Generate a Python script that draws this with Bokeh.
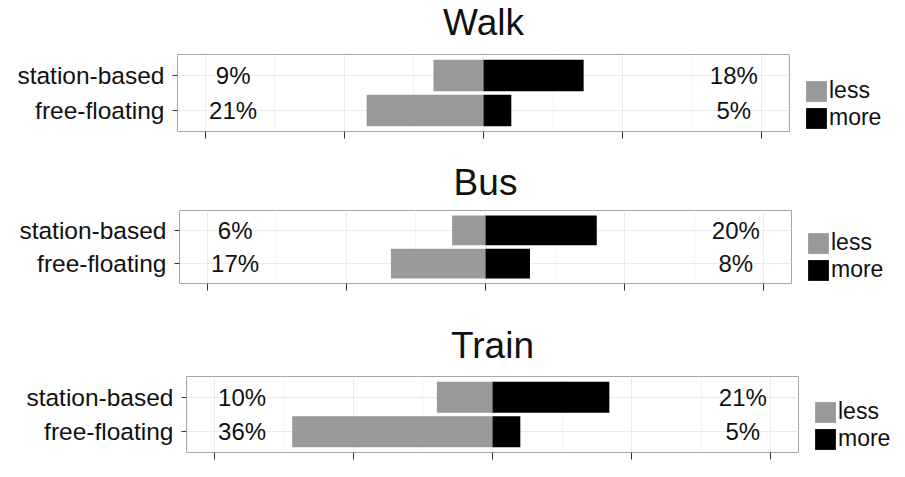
from bokeh.plotting import figure
from bokeh.models import (Range1d, FixedTicker, Legend, LegendItem, ColumnDataSource,
                          CustomLabelingPolicy, Spacer)
from bokeh.layouts import column, row
from bokeh.embed import file_html
from bokeh.resources import INLINE
from bokeh.core.properties import value

# ---- data ----
modes = ["Walk", "Bus", "Train"]
categories = ["station-based", "free-floating"]
walk_less = [9, 21]
walk_more = [18, 5]
bus_less = [6, 17]
bus_more = [20, 8]
train_less = [10, 36]
train_more = [21, 5]
legend_labels = ["less", "more"]
x_ticks = [-50, -25, 0, 25, 50]
x_minor_ticks = [-37.5, -12.5, 12.5, 37.5]
label_pos = 45

FONT = "Liberation Sans"
GRAY = "#999999"
BLACK = "#000000"
TEXT = "#111111"
FRAME_W = 612
B_LEFT = 177
B_RIGHT = 98


def make_title(title, height, center_from_top):
    t = figure(frame_width=FRAME_W, height=height, x_range=Range1d(-55, 55),
               y_range=Range1d(0, height), x_axis_type=None, y_axis_type=None,
               output_backend="svg", toolbar_location=None,
               min_border_left=B_LEFT, min_border_right=B_RIGHT,
               min_border_top=0, min_border_bottom=0)
    t.outline_line_color = None
    t.grid.visible = False
    t.text(x=[0], y=[height - center_from_top], text=[title],
           text_font=value(FONT), text_font_size="37px", text_align="center",
           text_baseline="middle", text_color=TEXT)
    return t


def make_panel(less, more, frame_h, b_top, b_bottom):
    ypos = list(range(len(categories), 0, -1))
    src = ColumnDataSource(dict(
        y=ypos,
        neg_less=[-v for v in less],
        more=more,
        zero=[0] * len(ypos),
    ))
    p = figure(frame_width=FRAME_W, frame_height=frame_h,
               x_range=Range1d(-55, 55), y_range=Range1d(0.4, 2.6),
               output_backend="svg", toolbar_location=None,
               min_border_left=B_LEFT, min_border_top=b_top,
               min_border_bottom=b_bottom, min_border_right=B_RIGHT)
    p.background_fill_color = "white"
    p.border_fill_color = "white"
    p.outline_line_color = "#a6a6a6"
    p.outline_line_width = 1

    # grid
    p.xgrid.ticker = FixedTicker(ticks=x_ticks, minor_ticks=x_minor_ticks)
    p.xgrid.grid_line_color = "#ebebeb"
    p.xgrid.minor_grid_line_color = "#f4f4f4"
    p.ygrid.ticker = FixedTicker(ticks=ypos)
    p.ygrid.grid_line_color = "#ebebeb"

    # x axis (ticks only, no labels)
    p.xaxis.ticker = FixedTicker(ticks=x_ticks, minor_ticks=x_minor_ticks)
    p.xaxis.major_label_policy = CustomLabelingPolicy(code="return new Set()")
    p.xaxis.major_label_text_font_size = "8px"
    p.xaxis.major_label_standoff = 0
    p.xaxis.major_tick_out = 7
    p.xaxis.major_tick_in = 0
    p.xaxis.minor_tick_line_color = None
    p.xaxis.axis_line_color = None
    p.xaxis.major_tick_line_color = "#333333"

    # y axis
    p.yaxis.ticker = FixedTicker(ticks=ypos)
    p.yaxis.major_label_overrides = {y: c for y, c in zip(ypos, categories)}
    p.yaxis.major_label_text_font = FONT
    p.yaxis.major_label_text_font_size = "24.5px"
    p.yaxis.major_label_text_color = TEXT
    p.yaxis.major_tick_out = 5
    p.yaxis.major_tick_in = 0
    p.yaxis.minor_tick_line_color = None
    p.yaxis.axis_line_color = None
    p.yaxis.major_tick_line_color = "#333333"
    p.yaxis.major_label_standoff = 8

    # bars
    r_less = p.hbar(y="y", left="neg_less", right="zero", height=0.9, source=src,
                    fill_color=GRAY, line_color=None)
    r_more = p.hbar(y="y", left="zero", right="more", height=0.9, source=src,
                    fill_color=BLACK, line_color=None)

    # percent labels
    p.text(x=[-label_pos] * len(ypos), y=ypos, text=[f"{v}%" for v in less],
           text_font=value(FONT), text_font_size="24px", text_align="center",
           text_baseline="middle", text_color=TEXT)
    p.text(x=[label_pos] * len(ypos), y=ypos, text=[f"{v}%" for v in more],
           text_font=value(FONT), text_font_size="24px", text_align="center",
           text_baseline="middle", text_color=TEXT)

    # legend
    legend = Legend(items=[LegendItem(label=legend_labels[0], renderers=[r_less]),
                           LegendItem(label=legend_labels[1], renderers=[r_more])],
                    glyph_width=26, glyph_height=26, label_height=26,
                    label_text_font=FONT, label_text_font_size="23px",
                    label_text_color=TEXT, label_standoff=0, spacing=0,
                    padding=0, margin=0, border_line_color=None,
                    background_fill_alpha=0, location=(14, 0))
    p.add_layout(legend, "right")
    return p


walk = column(make_title(modes[0], 46, 22), make_panel(walk_less, walk_more, 77, 8, 29), spacing=0)
bus = column(make_title(modes[1], 46, 22), make_panel(bus_less, bus_more, 73, 4, 39), spacing=0)
train = column(make_title(modes[2], 46, 23), make_panel(train_less, train_more, 76, 8, 17), spacing=0)

layout = column(row(Spacer(width=0), walk), row(Spacer(width=2), bus),
                row(Spacer(width=9), train), spacing=0)
open("out.html", "w").write(file_html(layout, INLINE))
